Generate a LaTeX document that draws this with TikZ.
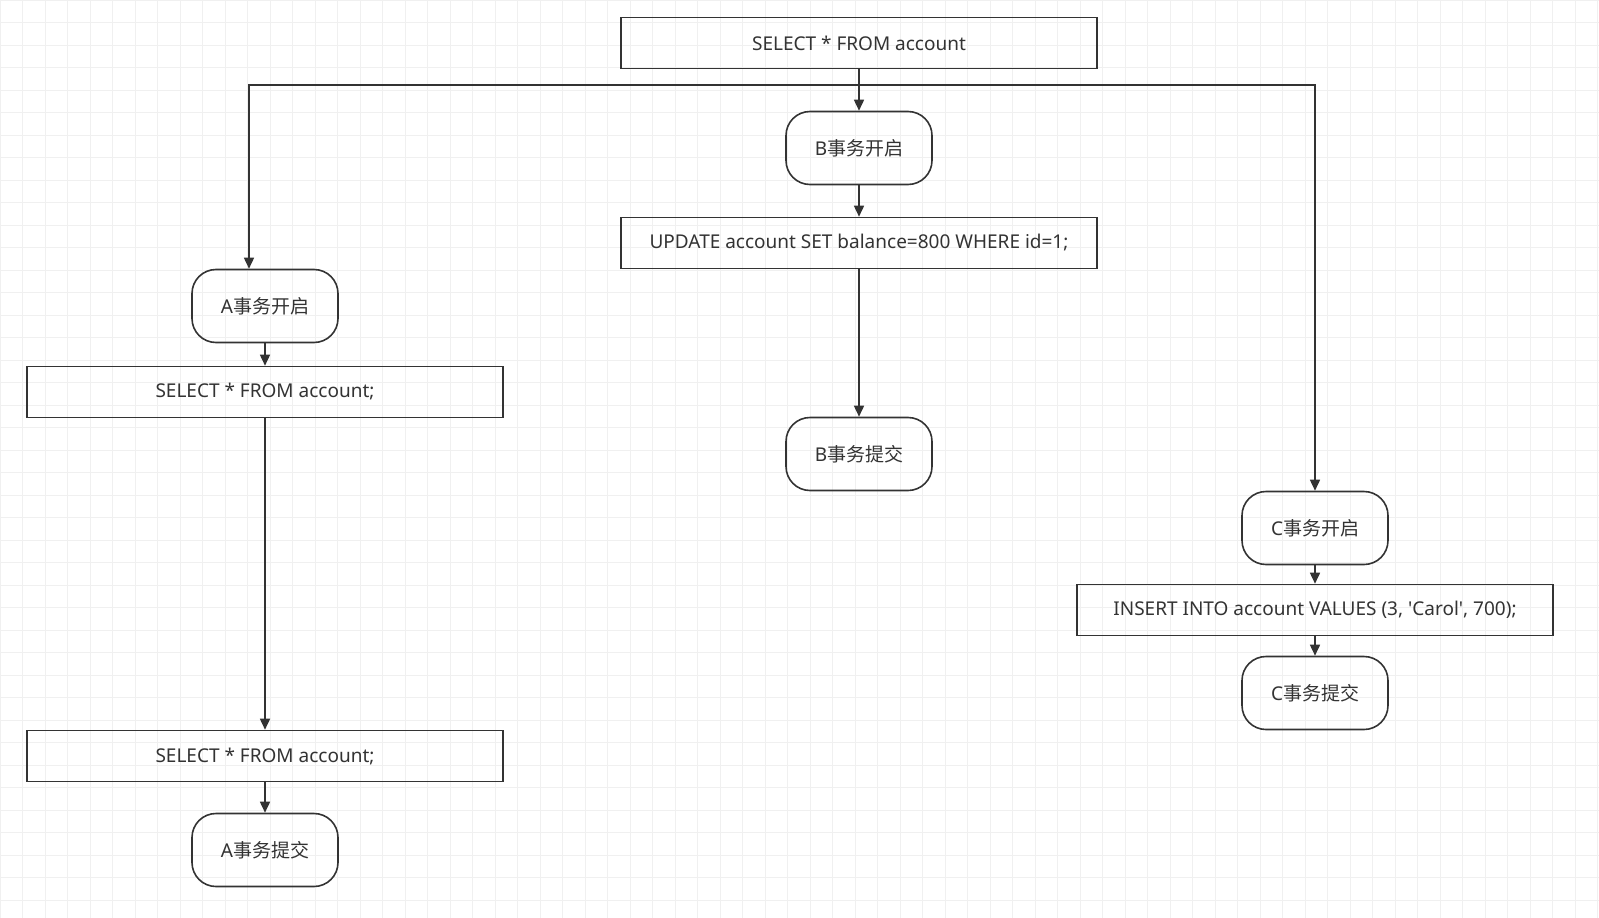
\documentclass[tikz,border=0pt]{standalone}
\usepackage{fontspec}
\setmainfont{Noto Sans}
\newfontfamily\cjk{Noto Sans CJK SC}
\usetikzlibrary{positioning,arrows.meta}
\definecolor{linegray}{HTML}{333333}

\begin{document}
\begin{tikzpicture}[
    x=1pt, y=-1pt,
    >={Triangle[length=11pt,width=10pt]},
    sqlbox/.style={draw=linegray, line width=1.6pt, minimum width=476pt,
                   minimum height=51pt, font=\fontsize{19}{22}\selectfont,
                   text=linegray},
    txbox/.style={draw=linegray, line width=1.6pt, rounded corners=24pt,
                  minimum width=146pt, minimum height=73pt,
                  font=\fontsize{19}{22}\selectfont, text=linegray},
    arrow/.style={->, line width=1.6pt, draw=linegray},
]

% canvas and grid
\useasboundingbox (0,0) rectangle (1599,918);
\fill[white] (0,0) rectangle (1599,918);
\draw[gray!12, line width=0.6pt, step=22.5pt] (0,0) grid (1599,918);

% column B
\node[sqlbox] (top) at (859,43) {SELECT * FROM account};
\node[txbox] (bstart) at (859,148) {B{\cjk 事务开启}};
\node[sqlbox] (update) at (859,243) {UPDATE account SET balance=800 WHERE id=1;};
\node[txbox] (bcommit) at (859,454) {B{\cjk 事务提交}};

% column A
\node[txbox] (astart) at (265,306) {A{\cjk 事务开启}};
\node[sqlbox] (aselect) at (265,392) {SELECT * FROM account;};
\node[sqlbox] (areselect) at (265,756) {SELECT * FROM account;};
\node[txbox] (acommit) at (265,850) {A{\cjk 事务提交}};

% column C
\node[txbox] (cstart) at (1315,528) {C{\cjk 事务开启}};
\node[sqlbox] (insert) at (1315,610)
    {INSERT INTO account VALUES (3, \textquotesingle Carol\textquotesingle, 700);};
\node[txbox] (ccommit) at (1315,693) {C{\cjk 事务提交}};

% connectors
\coordinate (split) at (859,85);
\draw[arrow] (top.south) -- (bstart.north);
\draw[arrow] (split) -| ([xshift=-16pt]astart.north);
\draw[arrow] (split) -| (cstart.north);
\draw[arrow] (bstart) -- (update);
\draw[arrow] (update) -- (bcommit);
\draw[arrow] (astart) -- (aselect);
\draw[arrow] (aselect) -- (areselect);
\draw[arrow] (areselect) -- (acommit);
\draw[arrow] (cstart) -- (insert);
\draw[arrow] (insert) -- (ccommit);

\end{tikzpicture}
\end{document}
